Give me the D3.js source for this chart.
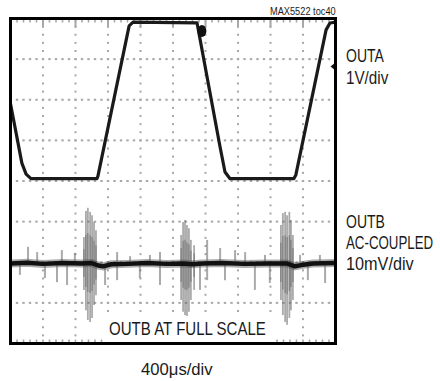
<!DOCTYPE html>
<html>
<head>
<meta charset="utf-8">
<script src="https://cdn.jsdelivr.net/npm/d3@7"></script>
<style>
  body { margin: 0; background: #fff; }
  svg text { font-family: "Liberation Sans", Arial, sans-serif; fill: #1a1a1a; }
</style>
</head>
<body>
<svg id="chart" width="440" height="381"></svg>
<script>
// scope screen: 10 divisions across, 8 divisions high (values in divisions)
const divsX = 10;
const divsY = 8;

// OUTA trace (1V/div)
const outaT = [0, 0.35, 0.48, 0.63, 2.66, 2.69, 3.65, 3.77, 5.74, 6.45, 6.6, 6.75, 8.72, 8.78, 9.71, 9.83, 10];
const outaV = [5.9, 4.44, 4.17, 4.06, 4.06, 4.12, 7.82, 7.91, 7.89, 4.83, 4.22, 4.06, 4.06, 4.15, 7.72, 7.89, 7.91];

// OUTB trace (10mV/div, AC-coupled)
const outbT = [0, 0.5, 1.0, 1.6, 2.2, 2.5, 2.7, 2.85, 3.1, 3.6, 4.2, 4.8, 5.3, 5.6, 5.9, 6.5, 7.2, 7.9, 8.5, 8.75, 8.95, 9.3, 10];
const outbV = [1.97, 1.99, 1.96, 1.98, 1.97, 1.98, 1.92, 1.9, 1.95, 1.96, 1.98, 1.96, 1.97, 1.95, 1.97, 1.98, 1.96, 1.97, 1.97, 1.9, 1.93, 1.97, 1.98];

// small noise spikes on OUTB: time, tip
const noiseT = [0.54, 0.82, 1.58, 1.98, 3.28, 3.68, 4.29, 4.6, 6.05, 6.45, 6.91, 7.22, 7.83, 8.91, 9.52,
                0.29, 1.06, 1.43, 1.74, 2.91, 3.28, 3.98, 4.6, 5.83, 6.05, 6.6, 7.52, 7.98, 9.15, 9.68];
const noiseV = [2.38, 2.25, 2.30, 2.23, 2.25, 2.15, 2.18, 2.25, 2.55, 2.35, 2.30, 2.25, 2.18, 2.18, 2.18,
                1.69, 1.61, 1.51, 1.44, 1.44, 1.56, 1.61, 1.44, 1.32, 1.56, 1.56, 1.32, 1.49, 1.56, 1.49];

// feedthrough glitches on OUTB: time, top, bottom
const glitchT = [2.26, 2.32, 2.38, 2.45, 2.51, 2.57, 2.63,
                 5.25, 5.31, 5.37, 5.43, 5.49, 5.55, 5.65,
                 8.32, 8.38, 8.45, 8.51, 8.58, 8.63, 8.69];
const glitchTop = [2.62, 3.26, 3.34, 3.24, 3.16, 2.99, 2.79,
                   2.67, 2.99, 3.04, 2.92, 2.84, 2.55, 2.42,
                   2.92, 3.21, 3.24, 3.16, 3.24, 3.04, 2.67];
const glitchBottom = [1.32, 0.82, 0.58, 0.53, 0.63, 0.95, 1.19,
                      1.07, 0.78, 0.70, 0.68, 0.78, 1.07, 1.32,
                      1.07, 0.70, 0.53, 0.46, 0.63, 0.82, 1.07];

// scope marks: trigger blob on OUTA, channel marker at right edge
const blobT = [5.89];
const blobV = [7.69];
const markerV = [6.82];

const labelsA = ["OUTA", "1V/div"];
const labelsB = ["OUTB", "AC-COUPLED", "10mV/div"];
const noteText = "OUTB AT FULL SCALE";
const timeText = "400\u03bcs/div";
const tocText = "MAX5522 toc40";

const svg = d3.select("#chart");
const x = d3.scaleLinear().domain([0, divsX]).range([10.5, 335.5]);
const y = d3.scaleLinear().domain([0, divsY]).range([343.5, 18.5]);

// condensed look: squeeze a regular sans horizontally
function narrowText(parent, str, px, py, size, sx) {
  return parent.append("text")
    .attr("transform", `translate(${px},${py}) scale(${sx},1)`)
    .style("font-size", size + "px")
    .text(str);
}

svg.append("rect").attr("width", 440).attr("height", 381).attr("fill", "#fff");

// dotted graticule
const grid = svg.append("g").attr("fill", "#a8a8a8");
const minorX = d3.range(0, divsX + 0.001, 0.2);
const minorY = d3.range(0, divsY + 0.001, 0.2);
d3.range(1, divsX).forEach(i => {
  grid.selectAll(null).data(minorY).enter().append("rect")
    .attr("x", x(i) - 1).attr("y", d => y(d) - 1)
    .attr("width", 2).attr("height", 2);
});
d3.range(1, divsY).forEach(j => {
  grid.selectAll(null).data(minorX).enter().append("rect")
    .attr("x", d => x(d) - 1.2).attr("y", y(j) - 1)
    .attr("width", 2.4).attr("height", 2);
});
// border ticks
grid.selectAll(null).data(minorX).enter().append("rect")
  .attr("x", d => x(d) - 0.8).attr("y", y(divsY)).attr("width", 1.6).attr("height", 4);
grid.selectAll(null).data(minorX).enter().append("rect")
  .attr("x", d => x(d) - 0.8).attr("y", y(0) - 4).attr("width", 1.6).attr("height", 4);
grid.selectAll(null).data(d3.range(1, divsX)).enter().append("rect")
  .attr("x", d => x(d) - 1).attr("y", y(divsY)).attr("width", 2).attr("height", 9);

// OUTB noise band + spikes
const outbPts = outbT.map((t, i) => [t, outbV[i]]);
const line = d3.line().x(d => x(d[0])).y(d => y(d[1]));

svg.append("path")
  .attr("d", line(outbPts))
  .attr("fill", "none").attr("stroke", "#333").attr("stroke-width", 8).attr("opacity", 0.4);

svg.append("g").selectAll("line")
  .data(noiseT.map((t, i) => [t, noiseV[i]]))
  .enter().append("line")
  .attr("x1", d => x(d[0])).attr("x2", d => x(d[0]))
  .attr("y1", y(1.96)).attr("y2", d => y(d[1]))
  .attr("stroke", "#666").attr("stroke-width", 2).attr("opacity", 0.55);

const glitches = glitchT.map((t, i) => [t, glitchTop[i], glitchBottom[i]]);
svg.append("g").selectAll("line")
  .data(glitches)
  .enter().append("line")
  .attr("x1", d => x(d[0])).attr("x2", d => x(d[0]))
  .attr("y1", d => y(d[1])).attr("y2", d => y(d[2]))
  .attr("stroke", "#666").attr("stroke-width", 1.8).attr("opacity", 0.55);

// darker core of each glitch
svg.append("g").selectAll("line")
  .data(glitches)
  .enter().append("line")
  .attr("x1", d => x(d[0])).attr("x2", d => x(d[0]))
  .attr("y1", d => y(1.96 + (d[1] - 1.96) * 0.55)).attr("y2", d => y(1.96 - (1.96 - d[2]) * 0.5))
  .attr("stroke", "#333").attr("stroke-width", 1.6).attr("opacity", 0.3);

svg.append("path")
  .attr("d", line(outbPts))
  .attr("fill", "none").attr("stroke", "#111").attr("stroke-width", 4.5)
  .attr("stroke-linejoin", "round");

// OUTA
svg.append("path")
  .attr("d", line(outaT.map((t, i) => [t, outaV[i]])))
  .attr("fill", "none").attr("stroke", "#1a1a1a").attr("stroke-width", 3.2)
  .attr("stroke-linejoin", "round");

svg.selectAll(".blob").data(blobT).enter().append("ellipse")
  .attr("cx", d => x(d)).attr("cy", (d, i) => y(blobV[i]))
  .attr("rx", 4.5).attr("ry", 6).attr("fill", "#111");

svg.selectAll(".marker").data(markerV).enter().append("path")
  .attr("d", d => `M${x(divsX)},${y(d) - 4}L${x(divsX) - 5},${y(d)}L${x(divsX)},${y(d) + 4}Z`)
  .attr("fill", "#111");

// frame
svg.append("rect")
  .attr("x", x(0)).attr("y", y(divsY))
  .attr("width", x(divsX) - x(0)).attr("height", y(0) - y(divsY))
  .attr("fill", "none").attr("stroke", "#000").attr("stroke-width", 3);

// note box inside the screen
svg.append("rect")
  .attr("x", 104).attr("y", 316).attr("width", 168).attr("height", 26)
  .attr("fill", "#fff");
narrowText(svg, noteText, 109, 335, 17.5, 0.86);

narrowText(svg, tocText, 270, 14.5, 11, 0.84);

const scalesA = [0.8, 0.87];
const scalesB = [0.8, 0.76, 0.93];
labelsA.forEach((d, i) => narrowText(svg, d, 346, 62 + i * 21.5, 17.5, scalesA[i]));
labelsB.forEach((d, i) => narrowText(svg, d, 346, 227.5 + i * 21, 17.5, scalesB[i]));

narrowText(svg, timeText, 141, 375, 17, 0.98);
</script>
</body>
</html>
